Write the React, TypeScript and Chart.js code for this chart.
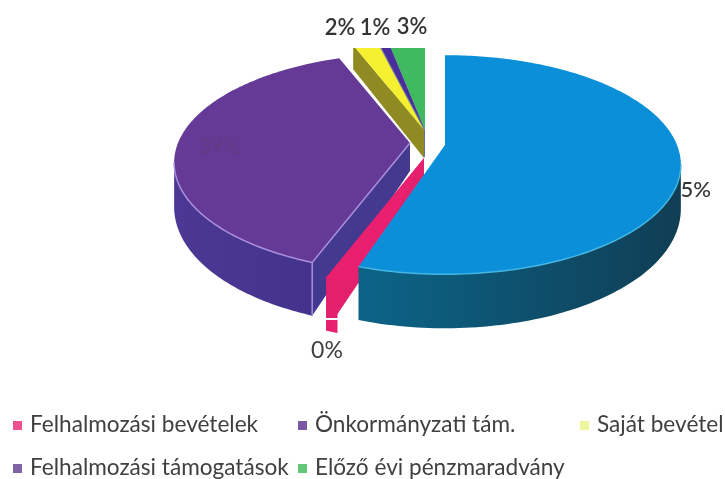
import React, { useEffect, useRef } from "react";
import { Chart, registerables } from "chart.js";

Chart.register(...registerables);

const categories = ["Önkormányzati tám.", "Felhalmozási bevételek", "Felhalmozási támogatások", "Saját bevétel", "Pótlólag", "Előző évi pénzmaradvány"];
const values = [55, 0.7, 38.5, 2, 0.8, 3];
const pctLabels = ["55%", "0%", "39%", "2%", "1%", "3%"];
const topColors = ["#0a8fd8", "#e8206f", "#653a96", "#f4f030", "#4a2f9c", "#3fba60"];
const cutColors = ["#0b5f80", "#e2206c", "#43398f", "#8f8b22", "#5f6fb0", "#8fc6a0"];
const wallColors = [["#0b6488", "#103e54"], ["#e8206f", "#e8206f"], ["#43338c", "#4c3894"], ["#8f8b22", "#8f8b22"], ["#4a2f9c", "#4a2f9c"], ["#3fba60", "#3fba60"]];
const rimColors = ["#45b5e2", "#e8206f", "#a98fdc", "#f4f030", "#4a2f9c", "#3fba60"];
const centers = [[445, 145], [424, 158], [410, 143], [424, 130], [425, 130], [425, 130]];
const topPadDeg = [0, 5, 0, 0, 0, 0];
const drawOrder = [5, 4, 3, 2, 1, 0];
const labelPos = [[711, 190], [327, 351], [220, 147], [340, 28], [375, 28], [412, 27]];
const labelColors = ["#333333", "#404040", "#5f3c85", "#333333", "#333333", "#333333"];
const legendItems = ["Felhalmozási bevételek", "Önkormányzati tám.", "Saját bevétel", "Felhalmozási támogatások", "Előző évi pénzmaradvány"];
const legendColors = ["#f0508f", "#7a58a5", "#eef59a", "#7e64a5", "#60c878"];
const legendPos = [[13, 425], [298, 425], [580, 425], [13, 468], [298, 468]];

const R = 232, RK = 106, P = 0.18;
const proj = (c: number[], th: number) => {
  const u = Math.sin(th), v = -Math.cos(th), w = 1 - P * v;
  return [c[0] + (R * u) / w, c[1] + (RK * v) / w, v];
};
const wallDepth = (v: number) => (v > 0 ? 42 + 12 * v : 24);
const APEX_DEPTH = 28;

const pie3d = {
  id: "pie3d",
  beforeDatasetsDraw(chart: any) {
    const ctx = chart.ctx;
    const arcs = chart.getDatasetMeta(0).data;
    ctx.save();
    ctx.textBaseline = "middle";
    ctx.font = "500 22px Lato";
    ctx.textAlign = "right";
    ctx.fillStyle = labelColors[0];
    ctx.fillText(pctLabels[0], labelPos[0][0], labelPos[0][1]);

    for (const i of drawOrder) {
      const a0 = arcs[i].startAngle + Math.PI / 2;
      const a1 = arcs[i].endAngle + Math.PI / 2;
      const topA0 = a0 - (topPadDeg[i] * Math.PI) / 180;
      const c = centers[i];
      const steps = Math.max(2, Math.ceil((a1 - topA0) * 60));
      ctx.save();
      ctx.beginPath();
      ctx.rect(0, 48, 725, 431);
      ctx.clip();

      // outer wall (front half only)
      const lo = Math.max(a0, (100 * Math.PI) / 180);
      const hi = Math.min(a1, (260 * Math.PI) / 180);
      if (hi > lo) {
        const pts: number[][] = [];
        for (let k = 0; k <= 80; k++) pts.push(proj(c, lo + ((hi - lo) * k) / 80));
        const xs = pts.map((p) => p[0]);
        const g = ctx.createLinearGradient(Math.min(...xs), 0, Math.max(...xs), 0);
        if (i === 0) {
          g.addColorStop(0, wallColors[i][0]);
          g.addColorStop(1, wallColors[i][1]);
        } else {
          g.addColorStop(0, wallColors[i][1]);
          g.addColorStop(1, wallColors[i][0]);
        }
        ctx.fillStyle = g;
        ctx.beginPath();
        pts.forEach((p, k) => (k ? ctx.lineTo(p[0], p[1]) : ctx.moveTo(p[0], p[1])));
        for (let k = pts.length - 1; k >= 0; k--) ctx.lineTo(pts[k][0], pts[k][1] + wallDepth(pts[k][2]));
        ctx.closePath();
        ctx.fill();
      }

      // radial cut face, when it looks toward the viewer
      const faceAngle = i === 1 ? a1 : a0;
      if (Math.sin(faceAngle) < -0.01) {
        const p = proj(c, faceAngle);
        ctx.fillStyle = cutColors[i];
        ctx.beginPath();
        ctx.moveTo(c[0], c[1]);
        ctx.lineTo(p[0], p[1]);
        ctx.lineTo(p[0], p[1] + wallDepth(p[2]));
        ctx.lineTo(c[0], c[1] + APEX_DEPTH);
        ctx.closePath();
        ctx.fill();
      }

      // top face
      ctx.fillStyle = topColors[i];
      ctx.beginPath();
      ctx.moveTo(c[0], c[1]);
      for (let k = 0; k <= steps; k++) {
        const p = proj(c, topA0 + ((a1 - topA0) * k) / steps);
        ctx.lineTo(p[0], p[1]);
      }
      ctx.closePath();
      ctx.fill();

      // lit edges
      if (i === 0 || i === 2) {
        ctx.strokeStyle = rimColors[i];
        ctx.lineWidth = 1.5;
        ctx.beginPath();
        const first = proj(c, hi);
        ctx.moveTo(first[0], first[1]);
        for (let k = 80; k >= 0; k--) {
          const p = proj(c, lo + ((hi - lo) * k) / 80);
          ctx.lineTo(p[0], p[1]);
        }
        if (i === 2) ctx.lineTo(c[0], c[1]);
        ctx.stroke();
        if (i === 2) {
          const p = proj(c, a0);
          ctx.beginPath();
          ctx.moveTo(p[0], p[1]);
          ctx.lineTo(p[0], p[1] + wallDepth(p[2]));
          ctx.stroke();
        }
      }

      // thin pale scan gap across the pink side
      if (i === 1) {
        ctx.fillStyle = "#ffffff";
        ctx.fillRect(324, 318, 24, 2);
      }
      ctx.restore();
    }

    // percentage labels
    ctx.textAlign = "center";
    for (let i = 1; i < pctLabels.length; i++) {
      ctx.fillStyle = labelColors[i];
      ctx.font = i === 1 ? "400 23px Lato" : "600 22px Lato";
      ctx.fillText(pctLabels[i], labelPos[i][0], labelPos[i][1]);
    }

    // legend
    ctx.textAlign = "left";
    ctx.font = "400 22.6px Lato";
    legendItems.forEach((t, i) => {
      const [x, y] = legendPos[i];
      ctx.fillStyle = legendColors[i];
      ctx.fillRect(x, y - 4, 9, 9);
      ctx.fillStyle = "#404040";
      ctx.fillText(t, x + 17, y);
    });
    ctx.restore();
    return false;
  },
};

export default function App() {
  const ref = useRef<HTMLCanvasElement>(null);
  useEffect(() => {
    const chart = new Chart(ref.current as HTMLCanvasElement, {
      type: "pie",
      data: { labels: categories, datasets: [{ data: values, backgroundColor: topColors }] },
      options: {
        responsive: false,
        animation: false,
        plugins: { legend: { display: false }, tooltip: { enabled: false } },
      },
      plugins: [pie3d],
    } as any);
    return () => chart.destroy();
  }, []);
  return (
    <div style={{ position: "absolute", left: 0, top: 0, width: 725, height: 479, background: "#fff" }}>
      <canvas ref={ref} width={725} height={479} style={{ display: "block" }} />
    </div>
  );
}
